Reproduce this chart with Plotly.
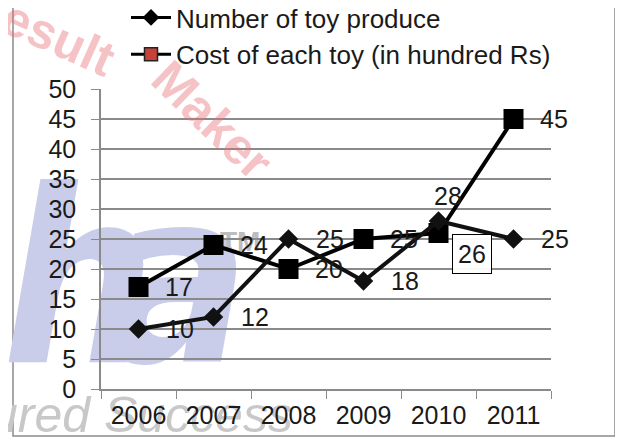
import plotly.graph_objects as go

years = ["2006", "2007", "2008", "2009", "2010", "2011"]
toys_produced = [10, 12, 25, 18, 28, 25]
cost_per_toy = [17, 24, 20, 25, 26, 45]
y_ticks = [0, 5, 10, 15, 20, 25, 30, 35, 40, 45, 50]

name_a = "Number of toy produce"
name_b = "Cost of each toy (in hundred Rs)"

# page geometry (browser body has an 8px margin)
PAGE_W, PAGE_H, OFF = 623, 439, 8
L, R, T, B = 101, 551, 89, 389
W, H = PAGE_W - OFF, PAGE_H - OFF


def fx(x):
    return (x - OFF) / W


def fy(y):
    return 1 - (y - OFF) / H


FONT = "Liberation Sans, Arial, sans-serif"
NARROW = "Liberation Sans Narrow, DejaVu Sans Condensed, Liberation Sans, sans-serif"
fig = go.Figure()

# ---- faint watermark on a full-figure pixel subplot (drawn below the data subplot)
wm = dict(xaxis="x", yaxis="y", mode="text", cliponaxis=True, showlegend=False,
          hoverinfo="skip", textposition="middle right")
blue = "#c9cde9"
fig.add_trace(go.Scatter(
    x=[2], y=[302], text=["h"], **wm,
    textfont=dict(family=NARROW, size=240, color=blue, style="italic", weight="bold"),
))
fig.add_trace(go.Scatter(
    x=[104], y=[302], text=["a"], **wm,
    textfont=dict(family=NARROW, size=240, color=blue, style="italic", weight="bold"),
))
fig.add_trace(go.Scatter(
    x=[-10], y=[419], text=["ured Success"], **wm,
    textfont=dict(family=FONT, size=50, color="#c8c8c8", style="italic"),
))
fig.add_trace(go.Scatter(
    x=[220], y=[244], text=["TM"], **wm,
    textfont=dict(family=FONT, size=28, color="#bdbdbd", weight="bold"),
))

# ---- data
fig.add_trace(go.Scatter(
    x=years, y=cost_per_toy, xaxis="x2", yaxis="y2", mode="lines+markers", showlegend=False,
    line=dict(color="#000000", width=4),
    marker=dict(symbol="square", size=20, color="#000000"),
))
fig.add_trace(go.Scatter(
    x=years, y=toys_produced, xaxis="x2", yaxis="y2", mode="lines+markers", showlegend=False,
    line=dict(color="#111111", width=4),
    marker=dict(symbol="diamond", size=15, color="#111111"),
))

# legend entries
fig.add_trace(go.Scatter(
    x=[None], y=[None], xaxis="x2", yaxis="y2", mode="lines+markers", name=name_a,
    line=dict(color="#000000", width=3),
    marker=dict(symbol="diamond", size=13, color="#000000"),
))
fig.add_trace(go.Scatter(
    x=[None], y=[None], xaxis="x2", yaxis="y2", mode="lines+markers", name=name_b,
    line=dict(color="#000000", width=3),
    marker=dict(symbol="square", size=13, color="#c8403a", line=dict(color="#222", width=1.5)),
))

annotations = [
    dict(text="<b>esult</b>", x=fx(58), y=fy(38), xref="paper", yref="paper",
         xanchor="center", yanchor="middle", showarrow=False, textangle=24,
         font=dict(family=FONT, size=50, color="rgba(232,110,120,0.42)")),
    dict(text="<b>Maker</b>", x=fx(212), y=fy(120), xref="paper", yref="paper",
         xanchor="center", yanchor="middle", showarrow=False, textangle=44,
         font=dict(family=FONT, size=50, color="rgba(232,110,120,0.42)")),
]

label_font = dict(family=FONT, size=25, color="#1a1a1a")
for i, v in enumerate(toys_produced):
    if i == 4:
        annotations.append(dict(x=i, y=v, xref="x2", yref="y2", text=str(v), showarrow=False,
                                xanchor="center", yanchor="bottom", xshift=9, yshift=9,
                                font=label_font))
    else:
        annotations.append(dict(x=i, y=v, xref="x2", yref="y2", text=str(v), showarrow=False,
                                xanchor="left", yanchor="middle", xshift=25, font=label_font))
for i, v in enumerate(cost_per_toy):
    if i == 4:
        annotations.append(dict(x=i, y=v, xref="x2", yref="y2", text=str(v), showarrow=False,
                                xanchor="center", yanchor="middle", xshift=33, yshift=-21,
                                font=label_font, bordercolor="#000", borderwidth=1, borderpad=5,
                                bgcolor="rgba(255,255,255,0.95)"))
    else:
        annotations.append(dict(x=i, y=v, xref="x2", yref="y2", text=str(v), showarrow=False,
                                xanchor="left", yanchor="middle", xshift=24, font=label_font))

axis_grey = "#8a8a8a"
fig.update_layout(
    width=W, height=H,
    margin=dict(l=0, r=0, t=0, b=0, pad=0, autoexpand=False),
    paper_bgcolor="white", plot_bgcolor="rgba(0,0,0,0)",
    font=dict(family=FONT, color="#1a1a1a"),
    showlegend=True,
    legend=dict(x=fx(126), y=fy(-6), xanchor="left", yanchor="top",
                font=dict(family=FONT, size=26, color="#1a1a1a"),
                bgcolor="rgba(0,0,0,0)", tracegroupgap=0, itemwidth=40),
    annotations=annotations,
    shapes=[dict(type="rect", xref="paper", yref="paper", x0=fx(13), x1=fx(615),
                 y0=fy(436), y1=fy(-20), line=dict(color=axis_grey, width=1.5),
                 fillcolor="rgba(0,0,0,0)", layer="below")],
    # pixel subplot for the watermark: covers the whole figure
    xaxis=dict(domain=[0, 1], range=[OFF, PAGE_W], visible=False, fixedrange=True,
               showgrid=False, zeroline=False),
    yaxis=dict(domain=[0, 1], range=[PAGE_H, OFF], visible=False, fixedrange=True,
               showgrid=False, zeroline=False),
    # data subplot
    xaxis2=dict(
        domain=[fx(L), fx(R)], anchor="y2",
        type="category", range=[-0.5, 5.5], tickson="boundaries",
        ticks="outside", ticklen=8, tickcolor=axis_grey, showline=True,
        linecolor=axis_grey, linewidth=1.5, showgrid=False, ticklabelstandoff=3,
        tickfont=dict(family=FONT, size=25, color="#1a1a1a"),
    ),
    yaxis2=dict(
        domain=[fy(B), fy(T)], anchor="x2",
        range=[0, 50], tickvals=y_ticks, ticks="outside", ticklen=8,
        tickcolor=axis_grey, showline=True, linecolor=axis_grey, linewidth=1.5,
        gridcolor=axis_grey, gridwidth=1.5, zeroline=False, ticklabelstandoff=10,
        tickfont=dict(family=FONT, size=25, color="#1a1a1a"),
    ),
)

fig.write_html("out.html")
